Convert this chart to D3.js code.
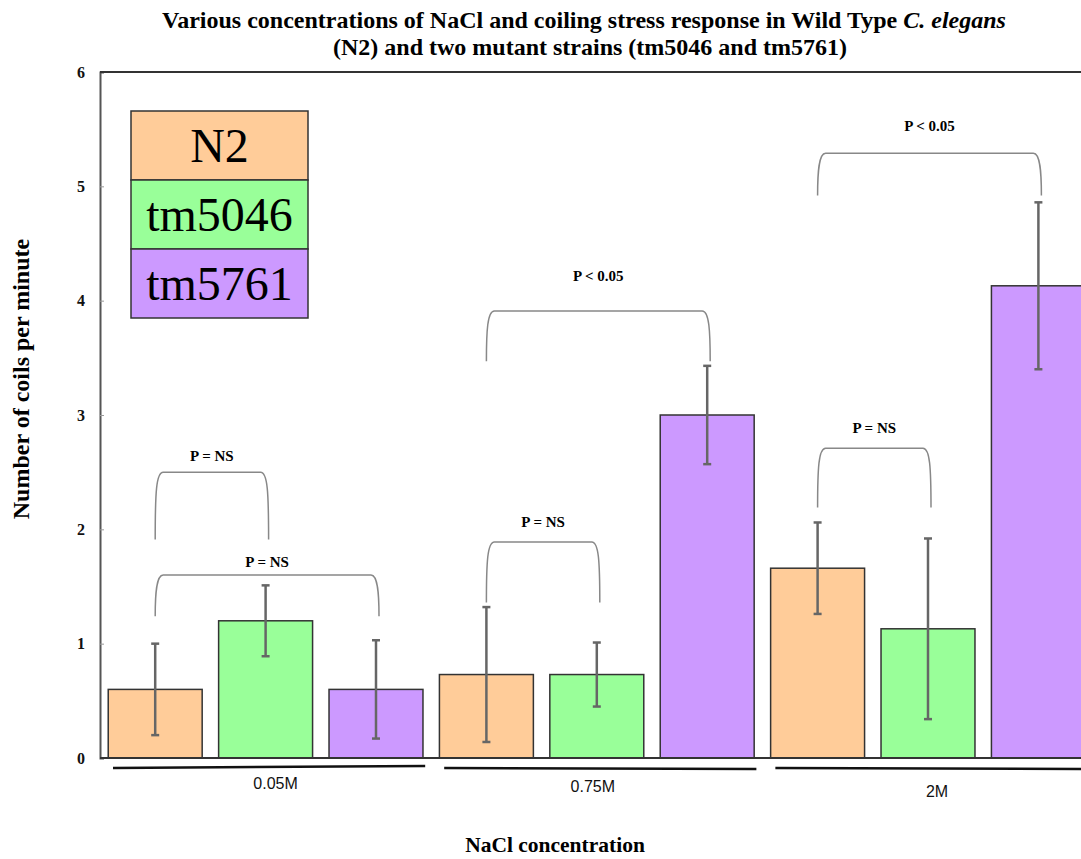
<!DOCTYPE html>
<html>
	<head>
		<meta charset="utf-8">
		<title>NaCl coiling</title>
		<style>
			body {
			  margin: 0;
			  overflow: hidden;
			  background: #fff;
			}
			svg {
			  position: absolute;
			  left: 0;
			  top: 0;
			}
		</style>
		<script src="https://d3js.org/d3.v7.min.js" charset="utf-8"></script>
	</head>
	<body>
		<script>

		var concentrations = ["0.05M", "0.75M", "2M"];
		var strains = ["N2", "tm5046", "tm5761"];
		var colors = ["#ffcc99", "#99ff99", "#cc99ff"];

		// means per strain, in concentration order
		var meansN2 = [0.6, 0.73, 1.66];
		var means5046 = [1.2, 0.73, 1.13];
		var means5761 = [0.6, 3.0, 4.13];

		var errN2 = [0.4, 0.59, 0.40];
		var err5046 = [0.31, 0.28, 0.79];
		var err5761 = [0.43, 0.43, 0.73];

		var yTicks = [0, 1, 2, 3, 4, 5, 6];

		// significance brackets: group, strain from, strain to, top, foot, label height
		var brGroup = ["0.05M", "0.05M", "0.75M", "0.75M", "2M", "2M"];
		var brFrom = ["N2", "N2", "N2", "N2", "N2", "N2"];
		var brTo = ["tm5046", "tm5761", "tm5046", "tm5761", "tm5046", "tm5761"];
		var brTop = [2.50, 1.60, 1.89, 3.91, 2.71, 5.29];
		var brFoot = [1.91, 1.24, 1.36, 3.47, 2.19, 4.92];
		var brLabelY = [2.64, 1.71, 2.06, 4.22, 2.89, 5.53];
		var brLabel = ["P = NS", "P = NS", "P = NS", "P < 0.05", "P = NS", "P < 0.05"];

		var w = 1081,
			h = 859;

		var mLeft = 100,
			mTop = 72,
			mBottom = 758,
			mRight = 1093.6;

		var serif = "Liberation Serif, Times New Roman, serif";

		var allMeans = [meansN2, means5046, means5761];
		var allErr = [errN2, err5046, err5761];

		var data = [];
		concentrations.forEach(function(c, i) {
			strains.forEach(function(s, j) {
				data.push({conc: c, strain: s, value: allMeans[j][i], err: allErr[j][i], color: colors[j]});
			});
		});

		var svg = d3.select("body").append("svg")
			.attr("width", w)
			.attr("height", h);

		var y = d3.scaleLinear().domain([0, 6]).range([mBottom, mTop]);

		var x0 = d3.scaleBand().domain(concentrations).range([mLeft, mRight]).padding(0);

		var x1 = d3.scaleBand().domain(strains).range([0, x0.bandwidth()])
			.paddingInner(0.149).paddingOuter(0.0745);

		var cx = function(c, s) { return x0(c) + x1(s) + x1.bandwidth() / 2; };

		// title
		var title = svg.append("text")
			.attr("x", 584)
			.attr("y", 28)
			.attr("text-anchor", "middle")
			.attr("font-family", serif)
			.attr("font-weight", "bold")
			.attr("font-size", "24px");
		title.append("tspan").text("Various concentrations of NaCl and coiling stress response in Wild Type ");
		title.append("tspan").attr("font-style", "italic").text("C. elegans");

		svg.append("text")
			.attr("x", 590)
			.attr("y", 55)
			.attr("text-anchor", "middle")
			.attr("font-family", serif)
			.attr("font-weight", "bold")
			.attr("font-size", "24px")
			.text("(N2) and two mutant strains (tm5046 and tm5761)");

		// y axis
		var yAxis = d3.axisLeft(y).tickValues(yTicks).tickSize(-4).tickPadding(15).tickFormat(d3.format("d"));

		var ya = svg.append("g")
			.attr("transform", "translate(" + mLeft + ",0)")
			.call(yAxis);
		ya.select(".domain").attr("stroke", "#555").attr("stroke-width", 2);
		ya.selectAll(".tick line").attr("stroke", "#999");
		ya.selectAll(".tick text")
			.attr("font-family", serif)
			.attr("font-weight", "bold")
			.attr("font-size", "16px")
			.attr("fill", "#111");

		// frame top
		svg.append("line")
			.attr("x1", mLeft).attr("x2", w)
			.attr("y1", y(6)).attr("y2", y(6))
			.attr("stroke", "#333").attr("stroke-width", 2);

		svg.append("text")
			.attr("transform", "translate(29,379) rotate(-90)")
			.attr("text-anchor", "middle")
			.attr("font-family", serif)
			.attr("font-weight", "bold")
			.attr("font-size", "24px")
			.text("Number of coils per minute");

		// bars
		svg.selectAll("rect.bar")
			.data(data)
			.enter()
			.append("rect")
			.attr("class", "bar")
			.attr("x", function(d) { return x0(d.conc) + x1(d.strain); })
			.attr("y", function(d) { return y(d.value); })
			.attr("width", x1.bandwidth())
			.attr("height", function(d) { return y(0) - y(d.value); })
			.attr("fill", function(d) { return d.color; })
			.attr("stroke", "#333")
			.attr("stroke-width", 1.5);

		svg.append("line")
			.attr("x1", mLeft).attr("x2", w)
			.attr("y1", y(0)).attr("y2", y(0))
			.attr("stroke", "#333").attr("stroke-width", 2);

		// error bars
		var eb = svg.selectAll("g.err")
			.data(data)
			.enter()
			.append("g")
			.attr("class", "err")
			.attr("stroke", "#666")
			.attr("stroke-width", 2.5);

		eb.append("line")
			.attr("x1", function(d) { return cx(d.conc, d.strain); })
			.attr("x2", function(d) { return cx(d.conc, d.strain); })
			.attr("y1", function(d) { return y(d.value + d.err); })
			.attr("y2", function(d) { return y(d.value - d.err); });

		eb.append("line")
			.attr("x1", function(d) { return cx(d.conc, d.strain) - 4; })
			.attr("x2", function(d) { return cx(d.conc, d.strain) + 4; })
			.attr("y1", function(d) { return y(d.value + d.err); })
			.attr("y2", function(d) { return y(d.value + d.err); });

		eb.append("line")
			.attr("x1", function(d) { return cx(d.conc, d.strain) - 4; })
			.attr("x2", function(d) { return cx(d.conc, d.strain) + 4; })
			.attr("y1", function(d) { return y(d.value - d.err); })
			.attr("y2", function(d) { return y(d.value - d.err); });

		// group underlines and labels
		var labelDy = [26, 29, 34];
		var labelDx = [10, -4, 9];
		concentrations.forEach(function(c, i) {
			var gx = x0(c);
			svg.append("line")
				.attr("x1", gx + 13)
				.attr("x2", Math.min(gx + x0.bandwidth() - 6, w))
				.attr("y1", y(0) + 10)
				.attr("y2", y(0) + 10 + (i == 0 ? -2 : 1))
				.attr("stroke", "#111")
				.attr("stroke-width", 2.5);

			svg.append("text")
				.attr("x", gx + x0.bandwidth() / 2 + labelDx[i])
				.attr("y", y(0) + labelDy[i] + 5)
				.attr("text-anchor", "middle")
				.attr("font-family", "Liberation Sans Narrow, Arial Narrow, Liberation Sans, sans-serif")
				.attr("font-size", "16px")
				.attr("fill", "#111")
				.text(c);
		});

		svg.append("text")
			.attr("x", 555)
			.attr("y", 852)
			.attr("text-anchor", "middle")
			.attr("font-family", serif)
			.attr("font-weight", "bold")
			.attr("font-size", "21.5px")
			.text("NaCl concentration");

		// brackets
		var bracketPath = function(xa, xb, yt, yb) {
			return "M" + xa + "," + yb +
				" C" + xa + "," + (yt + 20) + " " + (xa + 1) + "," + yt + " " + (xa + 8) + "," + yt +
				" L" + (xb - 8) + "," + yt +
				" C" + (xb - 1) + "," + yt + " " + xb + "," + (yt + 20) + " " + xb + "," + yb;
		};

		brGroup.forEach(function(g, i) {
			var xa = cx(g, brFrom[i]),
				xb = cx(g, brTo[i]) + 3;
			svg.append("path")
				.attr("d", bracketPath(xa, xb, y(brTop[i]), y(brFoot[i])))
				.attr("fill", "none")
				.attr("stroke", "#888")
				.attr("stroke-width", 1.5);

			svg.append("text")
				.attr("x", (xa + xb) / 2)
				.attr("y", y(brLabelY[i]) + 5)
				.attr("text-anchor", "middle")
				.attr("font-family", serif)
				.attr("font-weight", "bold")
				.attr("font-size", "15px")
				.text(brLabel[i]);
		});

		// legend
		var legend = svg.append("g").attr("transform", "translate(131,111)");
		var rowH = 69;

		legend.selectAll("rect")
			.data(strains)
			.enter()
			.append("rect")
			.attr("x", 0)
			.attr("y", function(d, i) { return i * rowH; })
			.attr("width", 177)
			.attr("height", rowH)
			.attr("fill", function(d, i) { return colors[i]; })
			.attr("stroke", "#333")
			.attr("stroke-width", 1.5);

		legend.selectAll("text")
			.data(strains)
			.enter()
			.append("text")
			.attr("x", 88.5)
			.attr("y", function(d, i) { return i * rowH + rowH / 2 + 16; })
			.attr("text-anchor", "middle")
			.attr("font-family", serif)
			.attr("font-size", "48px")
			.text(function(d) { return d; });

		</script>
	</body>
</html>
